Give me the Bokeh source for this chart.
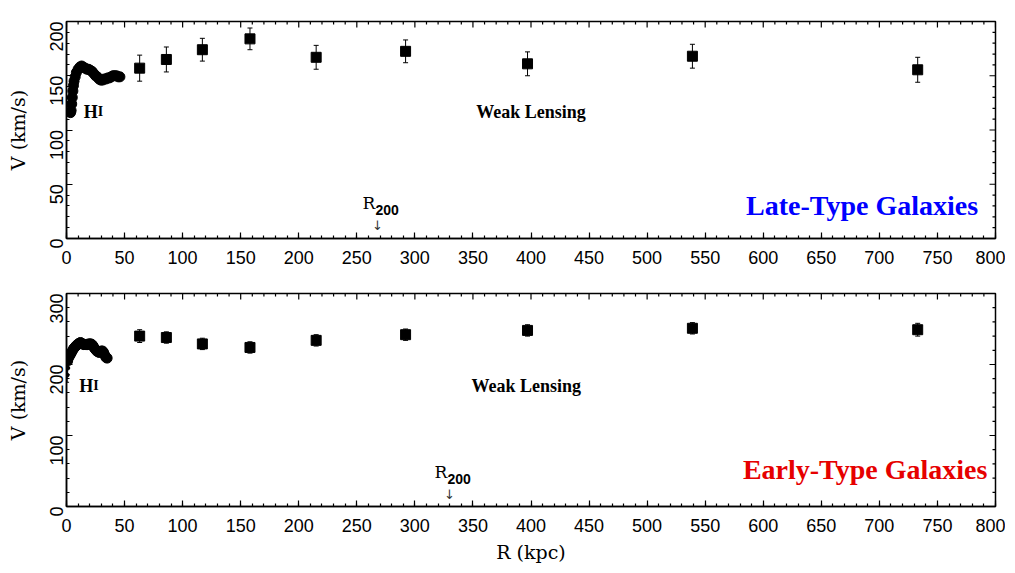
import math
from bokeh.plotting import figure
from bokeh.models import (Range1d, LinearAxis, SingleIntervalTicker, Whisker,
                          TeeHead, ColumnDataSource, Label)
from bokeh.layouts import column
from bokeh.embed import file_html
from bokeh.resources import INLINE

# ---------------- data ----------------
R_wl = [63, 86, 117, 158, 215, 292, 397, 539, 733]
V_late_wl = [157, 165, 174, 184, 167, 172.5, 161, 168, 155.5]
E_late_wl = [12, 11.5, 10.5, 10, 11, 10.5, 11, 11, 11.5]
V_early_wl = [240, 238, 229, 224, 234, 242, 248, 251, 249]
E_early_wl = [9, 8, 8, 8, 8, 8, 8, 8, 9]

R_hi_late = [3.5, 4, 4.5, 5, 5.5, 6, 6.5, 7.5, 8.5, 10, 11.5, 13, 14.5, 16, 17.5,
             19, 20.5, 22, 23.5, 25, 26.5, 28, 29.5, 31, 32.5, 34, 35.5, 37,
             38.5, 40, 41.5, 43, 44.5, 46]
V_hi_late = [116, 118, 124, 130, 136, 141, 145, 149, 153, 156, 158, 159, 158, 157,
             156, 156, 155, 154, 152, 150, 149, 147, 146, 146, 147, 147, 148, 148,
             149, 150, 150, 150, 149, 149]

R_hi_early = [1, 2, 3, 4, 5, 6, 7, 8, 9, 10, 11, 12, 13, 14, 15, 16, 17, 18, 19,
              20, 21, 22, 23, 24, 25, 26, 27, 28, 29, 30, 31, 32, 33, 34, 35]
V_hi_early = [205, 210, 213, 216, 219, 222, 224, 226, 227, 229, 230, 231, 230, 229,
              228, 228, 228, 228, 229, 229, 229, 228, 226, 223, 221, 219, 218, 217,
              218, 219, 219, 217, 213, 210, 209]

# inner HI points with visible error bars (early type)
R_hi_early_err = [0.5, 1.0, 1.5]
V_hi_early_err = [185, 195, 203]
E_hi_early_err = [10, 9, 8]

x_max = 800
x_major = 50
x_minor = 10

FONT_TICK = "Liberation Sans"
FONT_AXLAB = "DejaVu Serif"
FONT_TXT = "Liberation Serif"


def style_axis(ax):
    ax.axis_line_width = 1.5
    ax.axis_line_color = "black"
    ax.major_tick_in = 6
    ax.major_tick_out = 0
    ax.minor_tick_in = 3
    ax.minor_tick_out = 0
    ax.major_tick_line_width = 1.2
    ax.minor_tick_line_width = 1.2
    ax.major_label_text_font = FONT_TICK
    ax.major_label_text_font_size = "18px"
    ax.major_label_text_color = "black"
    ax.axis_label_text_color = "black"


def panel(y_max, y_major, y_minor, R_hi, V_hi, V_wl, E_wl, title, title_color,
          title_pos, r200_pos, hi_pos, wl_pos, height, top_border, bottom_border, xlabel):
    p = figure(width=1005, height=height, output_backend="svg", toolbar_location=None,
               x_range=Range1d(0, x_max), y_range=Range1d(0, y_max),
               x_axis_location=None, y_axis_location=None,
               min_border_left=66, min_border_right=10, min_border_top=top_border,
               min_border_bottom=bottom_border)
    p.grid.visible = False
    p.outline_line_color = "black"
    p.outline_line_width = 1.5
    p.background_fill_color = "white"
    p.border_fill_color = "white"

    xt = SingleIntervalTicker(interval=x_major, num_minor_ticks=5)
    yt = SingleIntervalTicker(interval=y_major, num_minor_ticks=5)

    xb = LinearAxis(ticker=xt)
    style_axis(xb)
    xb.major_label_standoff = 12
    if xlabel:
        xb.axis_label = xlabel
        xb.axis_label_text_font = FONT_AXLAB
        xb.axis_label_text_font_size = "19px"
        xb.axis_label_text_font_style = "normal"
        xb.axis_label_standoff = 6
    p.add_layout(xb, "below")

    yl = LinearAxis(ticker=yt)
    style_axis(yl)
    yl.major_label_orientation = math.pi / 2
    yl.major_label_standoff = 10
    yl.axis_label = "V (km/s)"
    yl.axis_label_text_font = FONT_AXLAB
    yl.axis_label_text_font_size = "19px"
    yl.axis_label_text_font_style = "normal"
    yl.axis_label_standoff = 12
    p.add_layout(yl, "left")

    # inward ticks on the top and right frame edges
    xs_major = list(range(0, x_max + 1, x_major))
    xs_minor = [v for v in range(0, x_max + 1, x_minor) if v % x_major]
    ys_major = list(range(0, y_max + 1, y_major))
    ys_minor = [v for v in range(0, y_max + 1, y_minor) if v % y_major]
    p.ray(x=xs_major, y=[y_max] * len(xs_major), length=6, length_units="screen",
          angle=-math.pi / 2, line_color="black", line_width=1.2)
    p.ray(x=xs_minor, y=[y_max] * len(xs_minor), length=3, length_units="screen",
          angle=-math.pi / 2, line_color="black", line_width=1.2)
    p.ray(x=[x_max] * len(ys_major), y=ys_major, length=6, length_units="screen",
          angle=math.pi, line_color="black", line_width=1.2)
    p.ray(x=[x_max] * len(ys_minor), y=ys_minor, length=3, length_units="screen",
          angle=math.pi, line_color="black", line_width=1.2)

    # weak lensing points with error bars
    src = ColumnDataSource(dict(x=R_wl, y=V_wl,
                                lo=[v - e for v, e in zip(V_wl, E_wl)],
                                hi=[v + e for v, e in zip(V_wl, E_wl)]))
    p.add_layout(Whisker(source=src, base="x", upper="hi", lower="lo",
                         dimension="height", line_color="black", line_width=1,
                         upper_head=TeeHead(size=5, line_color="black", line_width=1),
                         lower_head=TeeHead(size=5, line_color="black", line_width=1)))
    p.scatter("x", "y", source=src, marker="square", size=10, color="black")

    # HI rotation curve
    p.scatter(R_hi, V_hi, marker="circle", size=10, color="black")

    # labels
    p.add_layout(Label(x=hi_pos[0], y=hi_pos[1], text="H", text_font=FONT_TXT,
                       text_font_style="bold", text_font_size="18px", text_color="black",
                       text_align="right", text_baseline="alphabetic"))
    p.add_layout(Label(x=hi_pos[0], y=hi_pos[1], text="I", text_font=FONT_TXT,
                       text_font_style="bold", text_font_size="14px", text_color="black",
                       text_align="left", text_baseline="alphabetic"))
    p.add_layout(Label(x=wl_pos[0], y=wl_pos[1], text="Weak Lensing", text_font=FONT_TXT,
                       text_font_style="bold", text_font_size="18px", text_color="black",
                       text_align="center", text_baseline="alphabetic"))
    p.add_layout(Label(x=r200_pos[0], y=r200_pos[1], text="R", text_font=FONT_AXLAB,
                       text_font_size="17px", text_align="right", text_color="black",
                       text_baseline="alphabetic"))
    p.add_layout(Label(x=r200_pos[0], y=r200_pos[1], text="200", text_font=FONT_TICK,
                       text_font_style="bold", text_font_size="14px", text_align="left",
                       text_color="black", text_baseline="top", y_offset=-2))
    p.add_layout(Label(x=r200_pos[0], y=r200_pos[1], text="\u2193", text_font="DejaVu Sans",
                       text_font_size="13px", text_align="center", text_color="#333333",
                       text_baseline="top", y_offset=-15, x_offset=2))
    p.add_layout(Label(x=title_pos[0], y=title_pos[1], text=title, text_font=FONT_TXT,
                       text_font_style="bold", text_font_size="28px",
                       text_color=title_color, text_align="right",
                       text_baseline="middle"))
    return p


p1 = panel(200, 50, 10, R_hi_late, V_hi_late, V_late_wl, E_late_wl,
           "Late-Type Galaxies", "#0000ff", (785, 30), (266, 33), (27, 117), (400, 117),
           280, 21, 42, None)
p2 = panel(300, 100, 20, R_hi_early, V_hi_early, V_early_wl, E_early_wl,
           "Early-Type Galaxies", "#e60000", (793, 52), (328, 48), (23, 170), (396, 170),
           285, 13, 55, "R (kpc)")

# inner HI error bars (early type)
src_e = ColumnDataSource(dict(x=R_hi_early_err, y=V_hi_early_err,
                              lo=[v - e for v, e in zip(V_hi_early_err, E_hi_early_err)],
                              hi=[v + e for v, e in zip(V_hi_early_err, E_hi_early_err)]))
p2.add_layout(Whisker(source=src_e, base="x", upper="hi", lower="lo", dimension="height",
                      line_color="black", line_width=1,
                      upper_head=TeeHead(size=4, line_color="black", line_width=1),
                      lower_head=TeeHead(size=4, line_color="black", line_width=1)))
p2.scatter("x", "y", source=src_e, marker="circle", size=4, color="black")

layout = column(p1, p2, spacing=0)
open("out.html", "w").write(file_html(layout, INLINE))
